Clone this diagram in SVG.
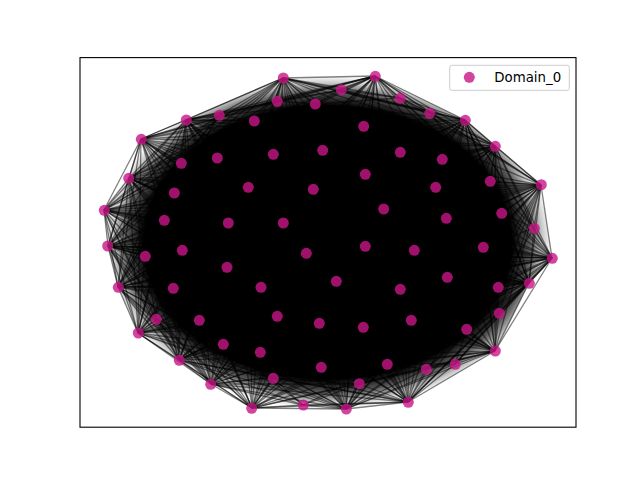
<svg xmlns="http://www.w3.org/2000/svg" width="640" height="480" viewBox="0 0 640 480">
<style>
.e path{stroke:#000;stroke-opacity:.5;stroke-width:1.3;fill:none}
.n circle{fill:#c71585;fill-opacity:.8}
</style>
<defs>
<radialGradient id="shade" cx="0.5" cy="0.5" r="0.5">
<stop offset="0.82" stop-color="#000" stop-opacity="1"/>
<stop offset="0.9" stop-color="#000" stop-opacity="0.65"/>
<stop offset="0.96" stop-color="#000" stop-opacity="0.2"/>
<stop offset="1" stop-color="#000" stop-opacity="0"/>
</radialGradient>
</defs>
<rect width="640" height="480" fill="#fff"/>
<polygon id="core" points="283,78 375,76 465,120 495,146 541,185 552,258 529,283 495,351 408,402 346,409 252,408 211,384 179,360 138,333 118,287 108,246 104,210 129,178 141,139 186,120" fill="url(#shade)"/>
<g id="edges" class="e">
<path d="M283 78L375 76"/><path d="M283 78L465 120"/><path d="M283 78L495 146"/><path d="M283 78L541 185"/><path d="M283 78L552 258"/>
<path d="M375 76L465 120"/><path d="M375 76L495 146"/><path d="M375 76L541 185"/><path d="M375 76L552 258"/><path d="M375 76L529 283"/>
<path d="M465 120L495 146"/><path d="M465 120L541 185"/><path d="M465 120L552 258"/><path d="M465 120L529 283"/><path d="M465 120L495 351"/>
<path d="M495 146L541 185"/><path d="M495 146L552 258"/><path d="M495 146L529 283"/><path d="M495 146L495 351"/><path d="M495 146L408 402"/>
<path d="M541 185L552 258"/><path d="M541 185L529 283"/><path d="M541 185L495 351"/><path d="M541 185L408 402"/><path d="M541 185L346 409"/>
<path d="M552 258L529 283"/><path d="M552 258L495 351"/><path d="M552 258L408 402"/><path d="M552 258L346 409"/><path d="M552 258L252 408"/>
<path d="M529 283L495 351"/><path d="M529 283L408 402"/><path d="M529 283L346 409"/><path d="M529 283L252 408"/><path d="M529 283L211 384"/>
<path d="M495 351L408 402"/><path d="M495 351L346 409"/><path d="M495 351L252 408"/><path d="M495 351L211 384"/><path d="M495 351L179 360"/>
<path d="M408 402L346 409"/><path d="M408 402L252 408"/><path d="M408 402L211 384"/><path d="M408 402L179 360"/><path d="M408 402L138 333"/>
<path d="M346 409L252 408"/><path d="M346 409L211 384"/><path d="M346 409L179 360"/><path d="M346 409L138 333"/><path d="M346 409L118 287"/>
<path d="M252 408L211 384"/><path d="M252 408L179 360"/><path d="M252 408L138 333"/><path d="M252 408L118 287"/><path d="M252 408L108 246"/>
<path d="M211 384L179 360"/><path d="M211 384L138 333"/><path d="M211 384L118 287"/><path d="M211 384L108 246"/><path d="M211 384L104 210"/>
<path d="M179 360L138 333"/><path d="M179 360L118 287"/><path d="M179 360L108 246"/><path d="M179 360L104 210"/><path d="M179 360L129 178"/>
<path d="M138 333L118 287"/><path d="M138 333L108 246"/><path d="M138 333L104 210"/><path d="M138 333L129 178"/><path d="M138 333L141 139"/>
<path d="M118 287L108 246"/><path d="M118 287L104 210"/><path d="M118 287L129 178"/><path d="M118 287L141 139"/><path d="M118 287L186 120"/>
<path d="M108 246L104 210"/><path d="M108 246L129 178"/><path d="M108 246L141 139"/><path d="M108 246L186 120"/><path d="M108 246L283 78"/>
<path d="M104 210L129 178"/><path d="M104 210L141 139"/><path d="M104 210L186 120"/><path d="M104 210L283 78"/><path d="M104 210L375 76"/>
<path d="M129 178L141 139"/><path d="M129 178L186 120"/><path d="M129 178L283 78"/><path d="M129 178L375 76"/><path d="M129 178L465 120"/>
<path d="M141 139L186 120"/><path d="M141 139L283 78"/><path d="M141 139L375 76"/><path d="M141 139L465 120"/><path d="M141 139L495 146"/>
<path d="M186 120L283 78"/><path d="M186 120L375 76"/><path d="M186 120L465 120"/><path d="M186 120L495 146"/><path d="M186 120L541 185"/>
<path d="M283 78L408 402"/><path d="M375 76L346 409"/><path d="M465 120L252 408"/><path d="M495 146L211 384"/><path d="M541 185L179 360"/>
<path d="M552 258L138 333"/><path d="M529 283L118 287"/><path d="M495 351L108 246"/><path d="M408 402L104 210"/><path d="M346 409L129 178"/>
<path d="M252 408L141 139"/><path d="M211 384L186 120"/><path d="M179 360L283 78"/><path d="M138 333L375 76"/><path d="M118 287L465 120"/>
<path d="M108 246L495 146"/><path d="M104 210L541 185"/><path d="M129 178L552 258"/><path d="M141 139L529 283"/><path d="M186 120L495 351"/>
<path d="M283 78L252 408"/><path d="M375 76L211 384"/><path d="M465 120L179 360"/><path d="M495 146L138 333"/><path d="M541 185L118 287"/>
<path d="M552 258L108 246"/><path d="M529 283L104 210"/><path d="M495 351L129 178"/><path d="M408 402L141 139"/><path d="M346 409L186 120"/>
<path d="M283 78L219 115"/><path d="M283 78L254 121"/><path d="M283 78L277 101"/><path d="M283 78L315 104"/><path d="M283 78L341 90"/><path d="M283 78L400 98"/><path d="M283 78L430 113"/><path d="M283 78L181 163"/>
<path d="M375 76L219 115"/><path d="M375 76L254 121"/><path d="M375 76L277 101"/><path d="M375 76L315 104"/><path d="M375 76L341 90"/><path d="M375 76L400 98"/><path d="M375 76L430 113"/><path d="M375 76L490 181"/>
<path d="M465 120L315 104"/><path d="M465 120L341 90"/><path d="M465 120L400 98"/><path d="M465 120L430 113"/><path d="M465 120L490 181"/><path d="M465 120L502 213"/><path d="M465 120L534 228"/><path d="M465 120L483 247"/>
<path d="M495 146L341 90"/><path d="M495 146L400 98"/><path d="M495 146L430 113"/><path d="M495 146L490 181"/><path d="M495 146L502 213"/><path d="M495 146L534 228"/><path d="M495 146L483 247"/><path d="M495 146L498 287"/>
<path d="M541 185L400 98"/><path d="M541 185L430 113"/><path d="M541 185L490 181"/><path d="M541 185L502 213"/><path d="M541 185L534 228"/><path d="M541 185L483 247"/><path d="M541 185L498 287"/><path d="M541 185L499 313"/><path d="M541 185L467 329"/>
<path d="M552 258L490 181"/><path d="M552 258L502 213"/><path d="M552 258L534 228"/><path d="M552 258L483 247"/><path d="M552 258L498 287"/><path d="M552 258L499 313"/><path d="M552 258L467 329"/><path d="M552 258L455 364"/>
<path d="M529 283L490 181"/><path d="M529 283L502 213"/><path d="M529 283L534 228"/><path d="M529 283L483 247"/><path d="M529 283L498 287"/><path d="M529 283L499 313"/><path d="M529 283L467 329"/><path d="M529 283L455 364"/><path d="M529 283L426 369"/>
<path d="M495 351L483 247"/><path d="M495 351L498 287"/><path d="M495 351L499 313"/><path d="M495 351L467 329"/><path d="M495 351L455 364"/><path d="M495 351L426 369"/><path d="M495 351L387 364"/><path d="M495 351L359 384"/>
<path d="M408 402L499 313"/><path d="M408 402L467 329"/><path d="M408 402L455 364"/><path d="M408 402L426 369"/><path d="M408 402L387 364"/><path d="M408 402L359 384"/><path d="M408 402L303 405"/><path d="M408 402L273 378"/>
<path d="M346 409L455 364"/><path d="M346 409L426 369"/><path d="M346 409L387 364"/><path d="M346 409L359 384"/><path d="M346 409L303 405"/><path d="M346 409L273 378"/><path d="M346 409L223 344"/>
<path d="M252 408L387 364"/><path d="M252 408L359 384"/><path d="M252 408L303 405"/><path d="M252 408L273 378"/><path d="M252 408L223 344"/><path d="M252 408L156 319"/><path d="M252 408L145 256"/>
<path d="M211 384L359 384"/><path d="M211 384L303 405"/><path d="M211 384L273 378"/><path d="M211 384L223 344"/><path d="M211 384L156 319"/><path d="M211 384L145 256"/><path d="M211 384L164 220"/>
<path d="M179 360L303 405"/><path d="M179 360L273 378"/><path d="M179 360L223 344"/><path d="M179 360L156 319"/><path d="M179 360L145 256"/><path d="M179 360L164 220"/><path d="M179 360L174 193"/>
<path d="M138 333L273 378"/><path d="M138 333L223 344"/><path d="M138 333L156 319"/><path d="M138 333L145 256"/><path d="M138 333L164 220"/><path d="M138 333L174 193"/><path d="M138 333L181 163"/>
<path d="M118 287L223 344"/><path d="M118 287L156 319"/><path d="M118 287L145 256"/><path d="M118 287L164 220"/><path d="M118 287L174 193"/><path d="M118 287L181 163"/><path d="M118 287L219 115"/>
<path d="M108 246L223 344"/><path d="M108 246L156 319"/><path d="M108 246L145 256"/><path d="M108 246L164 220"/><path d="M108 246L174 193"/><path d="M108 246L181 163"/><path d="M108 246L219 115"/>
<path d="M104 210L156 319"/><path d="M104 210L145 256"/><path d="M104 210L164 220"/><path d="M104 210L174 193"/><path d="M104 210L181 163"/><path d="M104 210L219 115"/><path d="M104 210L254 121"/>
<path d="M129 178L145 256"/><path d="M129 178L164 220"/><path d="M129 178L174 193"/><path d="M129 178L181 163"/><path d="M129 178L219 115"/><path d="M129 178L254 121"/><path d="M129 178L277 101"/>
<path d="M141 139L164 220"/><path d="M141 139L174 193"/><path d="M141 139L181 163"/><path d="M141 139L219 115"/><path d="M141 139L254 121"/><path d="M141 139L277 101"/><path d="M141 139L315 104"/>
<path d="M186 120L174 193"/><path d="M186 120L181 163"/><path d="M186 120L219 115"/><path d="M186 120L254 121"/><path d="M186 120L277 101"/><path d="M186 120L315 104"/><path d="M186 120L341 90"/>
<path d="M283 78L306 253"/><path d="M283 78L365 174"/><path d="M283 78L400 289"/><path d="M283 78L228 223"/><path d="M283 78L277 316"/>
<path d="M375 76L306 253"/><path d="M375 76L365 174"/><path d="M375 76L400 289"/><path d="M375 76L228 223"/><path d="M375 76L277 316"/>
<path d="M465 120L306 253"/><path d="M465 120L365 174"/><path d="M465 120L400 289"/><path d="M465 120L228 223"/><path d="M465 120L277 316"/>
<path d="M495 146L306 253"/><path d="M495 146L365 174"/><path d="M495 146L400 289"/><path d="M495 146L228 223"/><path d="M495 146L277 316"/>
<path d="M541 185L306 253"/><path d="M541 185L365 174"/><path d="M541 185L400 289"/><path d="M541 185L228 223"/><path d="M541 185L277 316"/>
<path d="M552 258L306 253"/><path d="M552 258L365 174"/><path d="M552 258L400 289"/><path d="M552 258L228 223"/><path d="M552 258L277 316"/>
<path d="M529 283L306 253"/><path d="M529 283L365 174"/><path d="M529 283L400 289"/><path d="M529 283L228 223"/><path d="M529 283L277 316"/>
<path d="M495 351L306 253"/><path d="M495 351L365 174"/><path d="M495 351L400 289"/><path d="M495 351L228 223"/><path d="M495 351L277 316"/>
<path d="M408 402L306 253"/><path d="M408 402L365 174"/><path d="M408 402L400 289"/><path d="M408 402L228 223"/><path d="M408 402L277 316"/>
<path d="M346 409L306 253"/><path d="M346 409L365 174"/><path d="M346 409L400 289"/><path d="M346 409L228 223"/><path d="M346 409L277 316"/>
<path d="M252 408L306 253"/><path d="M252 408L365 174"/><path d="M252 408L400 289"/><path d="M252 408L228 223"/><path d="M252 408L277 316"/>
<path d="M211 384L306 253"/><path d="M211 384L365 174"/><path d="M211 384L400 289"/><path d="M211 384L228 223"/><path d="M211 384L277 316"/>
<path d="M179 360L306 253"/><path d="M179 360L365 174"/><path d="M179 360L400 289"/><path d="M179 360L228 223"/><path d="M179 360L277 316"/>
<path d="M138 333L306 253"/><path d="M138 333L365 174"/><path d="M138 333L400 289"/><path d="M138 333L228 223"/><path d="M138 333L277 316"/>
<path d="M118 287L306 253"/><path d="M118 287L365 174"/><path d="M118 287L400 289"/><path d="M118 287L228 223"/><path d="M118 287L277 316"/>
<path d="M108 246L306 253"/><path d="M108 246L365 174"/><path d="M108 246L400 289"/><path d="M108 246L228 223"/><path d="M108 246L277 316"/>
<path d="M104 210L306 253"/><path d="M104 210L365 174"/><path d="M104 210L400 289"/><path d="M104 210L228 223"/><path d="M104 210L277 316"/>
<path d="M129 178L306 253"/><path d="M129 178L365 174"/><path d="M129 178L400 289"/><path d="M129 178L228 223"/><path d="M129 178L277 316"/>
<path d="M141 139L306 253"/><path d="M141 139L365 174"/><path d="M141 139L400 289"/><path d="M141 139L228 223"/><path d="M141 139L277 316"/>
<path d="M186 120L306 253"/><path d="M186 120L365 174"/><path d="M186 120L400 289"/><path d="M186 120L228 223"/><path d="M186 120L277 316"/>
<path d="M283 78L248 187"/><path d="M283 78L446 218"/><path d="M283 78L336 281"/><path d="M283 78L182 250"/><path d="M283 78L411 320"/>
<path d="M375 76L248 187"/><path d="M375 76L446 218"/><path d="M375 76L336 281"/><path d="M375 76L182 250"/><path d="M375 76L411 320"/>
<path d="M465 120L248 187"/><path d="M465 120L446 218"/><path d="M465 120L336 281"/><path d="M465 120L182 250"/><path d="M465 120L411 320"/>
<path d="M495 146L248 187"/><path d="M495 146L446 218"/><path d="M495 146L336 281"/><path d="M495 146L182 250"/><path d="M495 146L411 320"/>
<path d="M541 185L248 187"/><path d="M541 185L446 218"/><path d="M541 185L336 281"/><path d="M541 185L182 250"/><path d="M541 185L411 320"/>
<path d="M552 258L248 187"/><path d="M552 258L446 218"/><path d="M552 258L336 281"/><path d="M552 258L182 250"/><path d="M552 258L411 320"/>
<path d="M529 283L248 187"/><path d="M529 283L446 218"/><path d="M529 283L336 281"/><path d="M529 283L182 250"/><path d="M529 283L411 320"/>
<path d="M495 351L248 187"/><path d="M495 351L446 218"/><path d="M495 351L336 281"/><path d="M495 351L182 250"/><path d="M495 351L411 320"/>
<path d="M408 402L248 187"/><path d="M408 402L446 218"/><path d="M408 402L336 281"/><path d="M408 402L182 250"/><path d="M408 402L411 320"/>
<path d="M346 409L248 187"/><path d="M346 409L446 218"/><path d="M346 409L336 281"/><path d="M346 409L182 250"/><path d="M346 409L411 320"/>
<path d="M252 408L248 187"/><path d="M252 408L446 218"/><path d="M252 408L336 281"/><path d="M252 408L182 250"/><path d="M252 408L411 320"/>
<path d="M211 384L248 187"/><path d="M211 384L446 218"/><path d="M211 384L336 281"/><path d="M211 384L182 250"/><path d="M211 384L411 320"/>
<path d="M179 360L248 187"/><path d="M179 360L446 218"/><path d="M179 360L336 281"/><path d="M179 360L182 250"/><path d="M179 360L411 320"/>
<path d="M138 333L248 187"/><path d="M138 333L446 218"/><path d="M138 333L336 281"/><path d="M138 333L182 250"/><path d="M138 333L411 320"/>
<path d="M118 287L248 187"/><path d="M118 287L446 218"/><path d="M118 287L336 281"/><path d="M118 287L182 250"/><path d="M118 287L411 320"/>
<path d="M108 246L248 187"/><path d="M108 246L446 218"/><path d="M108 246L336 281"/><path d="M108 246L182 250"/><path d="M108 246L411 320"/>
<path d="M104 210L248 187"/><path d="M104 210L446 218"/><path d="M104 210L336 281"/><path d="M104 210L182 250"/><path d="M104 210L411 320"/>
<path d="M129 178L248 187"/><path d="M129 178L446 218"/><path d="M129 178L336 281"/><path d="M129 178L182 250"/><path d="M129 178L411 320"/>
<path d="M141 139L248 187"/><path d="M141 139L446 218"/><path d="M141 139L336 281"/><path d="M141 139L182 250"/><path d="M141 139L411 320"/>
<path d="M186 120L248 187"/><path d="M186 120L446 218"/><path d="M186 120L336 281"/><path d="M186 120L182 250"/><path d="M186 120L411 320"/>
<path d="M219 115L254 121"/><path d="M219 115L277 101"/><path d="M254 121L277 101"/><path d="M254 121L315 104"/><path d="M277 101L315 104"/><path d="M277 101L341 90"/>
<path d="M315 104L341 90"/><path d="M315 104L400 98"/><path d="M341 90L400 98"/><path d="M341 90L430 113"/><path d="M400 98L430 113"/><path d="M400 98L490 181"/>
<path d="M430 113L490 181"/><path d="M430 113L502 213"/><path d="M490 181L502 213"/><path d="M490 181L534 228"/><path d="M502 213L534 228"/><path d="M502 213L483 247"/>
<path d="M534 228L483 247"/><path d="M534 228L498 287"/><path d="M483 247L498 287"/><path d="M483 247L499 313"/><path d="M498 287L499 313"/><path d="M498 287L467 329"/>
<path d="M499 313L467 329"/><path d="M499 313L455 364"/><path d="M467 329L455 364"/><path d="M467 329L426 369"/><path d="M455 364L426 369"/><path d="M455 364L387 364"/>
<path d="M426 369L387 364"/><path d="M426 369L359 384"/><path d="M387 364L359 384"/><path d="M387 364L303 405"/><path d="M359 384L303 405"/><path d="M359 384L273 378"/>
<path d="M303 405L273 378"/><path d="M303 405L223 344"/><path d="M273 378L223 344"/><path d="M273 378L156 319"/><path d="M223 344L156 319"/><path d="M223 344L145 256"/>
<path d="M156 319L145 256"/><path d="M156 319L164 220"/><path d="M145 256L164 220"/><path d="M145 256L174 193"/><path d="M164 220L174 193"/><path d="M164 220L181 163"/>
<path d="M174 193L181 163"/><path d="M174 193L219 115"/><path d="M181 163L219 115"/><path d="M181 163L254 121"/>
</g>
<g class="n">
<g id="n1"><circle cx="283.3" cy="78" r="5.5"/></g>
<g id="n2"><circle cx="277.3" cy="101.3" r="5.5"/></g>
<g id="n3"><circle cx="315.3" cy="104" r="5.5"/></g>
<g id="n4"><circle cx="186.3" cy="120" r="5.5"/></g>
<g id="n5"><circle cx="219.3" cy="115.3" r="5.5"/></g>
<g id="n6"><circle cx="254.3" cy="121" r="5.5"/></g>
<g id="n7"><circle cx="141.3" cy="139.3" r="5.5"/></g>
<g id="n8"><circle cx="322.7" cy="150.3" r="5.5"/></g>
<g id="n9"><circle cx="181.3" cy="163.3" r="5.5"/></g>
<g id="n10"><circle cx="217.3" cy="158" r="5.5"/></g>
<g id="n11"><circle cx="273.3" cy="154.3" r="5.5"/></g>
<g id="n12"><circle cx="128.7" cy="178.3" r="5.5"/></g>
<g id="n13"><circle cx="174.3" cy="193" r="5.5"/></g>
<g id="n14"><circle cx="248.3" cy="187.3" r="5.5"/></g>
<g id="n15"><circle cx="313.3" cy="189.3" r="5.5"/></g>
<g id="n16"><circle cx="104.3" cy="210.3" r="5.5"/></g>
<g id="n17"><circle cx="164.3" cy="220.3" r="5.5"/></g>
<g id="n18"><circle cx="228.3" cy="223" r="5.5"/></g>
<g id="n19"><circle cx="283.3" cy="223" r="5.5"/></g>
<g id="n20"><circle cx="375.3" cy="76.3" r="5.5"/></g>
<g id="n21"><circle cx="341.3" cy="89.7" r="5.5"/></g>
<g id="n22"><circle cx="400.3" cy="98.3" r="5.5"/></g>
<g id="n23"><circle cx="429.7" cy="113.3" r="5.5"/></g>
<g id="n24"><circle cx="465.3" cy="120.3" r="5.5"/></g>
<g id="n25"><circle cx="363.7" cy="126.3" r="5.5"/></g>
<g id="n26"><circle cx="495.3" cy="146.3" r="5.5"/></g>
<g id="n27"><circle cx="400.3" cy="152.3" r="5.5"/></g>
<g id="n28"><circle cx="442.3" cy="159.3" r="5.5"/></g>
<g id="n29"><circle cx="365.3" cy="174.3" r="5.5"/></g>
<g id="n30"><circle cx="490.3" cy="181.3" r="5.5"/></g>
<g id="n31"><circle cx="541.3" cy="184.7" r="5.5"/></g>
<g id="n32"><circle cx="435.7" cy="187.3" r="5.5"/></g>
<g id="n33"><circle cx="383.7" cy="209" r="5.5"/></g>
<g id="n34"><circle cx="446.3" cy="218.3" r="5.5"/></g>
<g id="n35"><circle cx="501.7" cy="213.3" r="5.5"/></g>
<g id="n36"><circle cx="534.3" cy="228.3" r="5.5"/></g>
<g id="n37"><circle cx="107.7" cy="246" r="5.5"/></g>
<g id="n38"><circle cx="145.3" cy="256.3" r="5.5"/></g>
<g id="n39"><circle cx="182.3" cy="250.3" r="5.5"/></g>
<g id="n40"><circle cx="306.3" cy="253.3" r="5.5"/></g>
<g id="n41"><circle cx="227" cy="267.3" r="5.5"/></g>
<g id="n42"><circle cx="118.3" cy="287.3" r="5.5"/></g>
<g id="n43"><circle cx="173.3" cy="288.3" r="5.5"/></g>
<g id="n44"><circle cx="261" cy="287.3" r="5.5"/></g>
<g id="n45"><circle cx="156.3" cy="319.3" r="5.5"/></g>
<g id="n46"><circle cx="199.3" cy="320.3" r="5.5"/></g>
<g id="n47"><circle cx="277.3" cy="316.3" r="5.5"/></g>
<g id="n48"><circle cx="319.3" cy="323.3" r="5.5"/></g>
<g id="n49"><circle cx="138.3" cy="333" r="5.5"/></g>
<g id="n50"><circle cx="223.3" cy="344.3" r="5.5"/></g>
<g id="n51"><circle cx="260.3" cy="352.3" r="5.5"/></g>
<g id="n52"><circle cx="179.3" cy="360.3" r="5.5"/></g>
<g id="n53"><circle cx="321.3" cy="367.3" r="5.5"/></g>
<g id="n54"><circle cx="273.3" cy="378.3" r="5.5"/></g>
<g id="n55"><circle cx="210.7" cy="384.3" r="5.5"/></g>
<g id="n56"><circle cx="251.7" cy="408.3" r="5.5"/></g>
<g id="n57"><circle cx="303.3" cy="405" r="5.5"/></g>
<g id="n58"><circle cx="365.3" cy="246.3" r="5.5"/></g>
<g id="n59"><circle cx="414.3" cy="250.3" r="5.5"/></g>
<g id="n60"><circle cx="483.3" cy="247.3" r="5.5"/></g>
<g id="n61"><circle cx="552.3" cy="258.3" r="5.5"/></g>
<g id="n62"><circle cx="336.3" cy="281.3" r="5.5"/></g>
<g id="n63"><circle cx="400.3" cy="289.3" r="5.5"/></g>
<g id="n64"><circle cx="447.3" cy="277.3" r="5.5"/></g>
<g id="n65"><circle cx="498.3" cy="287.3" r="5.5"/></g>
<g id="n66"><circle cx="529.3" cy="283.3" r="5.5"/></g>
<g id="n67"><circle cx="411.3" cy="320.3" r="5.5"/></g>
<g id="n68"><circle cx="363.3" cy="327.3" r="5.5"/></g>
<g id="n69"><circle cx="499.3" cy="313.3" r="5.5"/></g>
<g id="n70"><circle cx="466.7" cy="329.3" r="5.5"/></g>
<g id="n71"><circle cx="495.3" cy="351" r="5.5"/></g>
<g id="n72"><circle cx="387.3" cy="364.3" r="5.5"/></g>
<g id="n73"><circle cx="426.3" cy="369.3" r="5.5"/></g>
<g id="n74"><circle cx="455.3" cy="364.3" r="5.5"/></g>
<g id="n75"><circle cx="359.3" cy="383.7" r="5.5"/></g>
<g id="n76"><circle cx="346.3" cy="409" r="5.5"/></g>
<g id="n77"><circle cx="408.3" cy="402.3" r="5.5"/></g>
</g>
<rect id="axes" x="80" y="57.6" width="496" height="369.6" fill="none" stroke="#000" stroke-width="1.1"/>
<g id="legend">
<rect x="449.7" y="65.3" width="119.6" height="25" rx="2" fill="#fff" fill-opacity="0.8" stroke="#ccc" stroke-width="1"/>
<circle cx="469.3" cy="77.3" r="5.5" fill="#c71585" fill-opacity="0.8"/>
<text x="494.3" y="82.2" font-family="DejaVu Sans, sans-serif" font-size="13.33" fill="#000">Domain_0</text>
</g>
</svg>
